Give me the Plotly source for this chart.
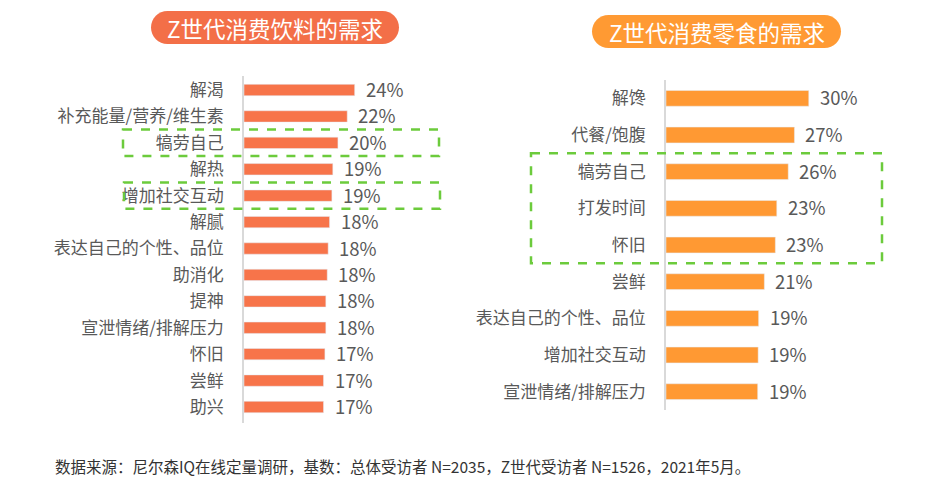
import plotly.graph_objects as go

W, H = 947, 492

# ---- data ----
drink_cats = ["解渴", "补充能量/营养/维生素", "犒劳自己", "解热", "增加社交互动", "解腻",
              "表达自己的个性、品位", "助消化", "提神", "宣泄情绪/排解压力", "怀旧", "尝鲜", "助兴"]
drink_vals = [23.8, 22.2, 20.2, 19.1, 18.9, 18.4, 18.1, 17.9, 17.6, 17.6, 17.4, 17.1, 17.1]
drink_highlight = ["犒劳自己", "增加社交互动"]

snack_cats = ["解馋", "代餐/饱腹", "犒劳自己", "打发时间", "怀旧", "尝鲜",
              "表达自己的个性、品位", "增加社交互动", "宣泄情绪/排解压力"]
snack_vals = [29.9, 26.9, 25.6, 23.2, 22.9, 20.6, 19.4, 19.3, 19.2]
snack_highlight = ["犒劳自己", "打发时间", "怀旧"]

title_left = "Z世代消费饮料的需求"
title_right = "Z世代消费零食的需求"
footnote = "数据来源：尼尔森IQ在线定量调研，基数：总体受访者 N=2035，Z世代受访者 N=1526，2021年5月。"

C_LEFT = "#F7744A"
C_RIGHT = "#FF9933"
C_TITLE_L = "#F36F48"
C_TITLE_R = "#FF9A33"
GREEN = "#6CCB3C"
TXT = "#595959"
FONT = "Noto Sans CJK SC"

def px(x):
    return x / W

def py(y):
    return 1 - y / H

fig = go.Figure()

fig.add_trace(go.Bar(x=drink_vals, y=drink_cats, orientation="h", marker_color=C_LEFT,
                     width=0.43, xaxis="x", yaxis="y", hoverinfo="skip"))
fig.add_trace(go.Bar(x=snack_vals, y=snack_cats, orientation="h", marker_color=C_RIGHT,
                     width=0.43, xaxis="x2", yaxis="y2", hoverinfo="skip"))

common_x = dict(range=[0, 40], showgrid=False, zeroline=False, showticklabels=False,
                showline=False, fixedrange=True)
common_y = dict(type="category", autorange="reversed", showgrid=False, zeroline=False,
                showline=True, linecolor="#D9D9D9", linewidth=1.5, ticks="",
                tickfont=dict(family=FONT, size=17, color=TXT), ticklabelstandoff=15)

fig.update_layout(
    width=W, height=H, margin=dict(l=0, r=0, t=0, b=0),
    paper_bgcolor="white", plot_bgcolor="white", showlegend=False,
    xaxis=dict(domain=[px(244), px(430)], anchor="y", **common_x),
    yaxis=dict(domain=[py(423), py(76)], anchor="x", **common_y),
    xaxis2=dict(domain=[px(666), px(857)], anchor="y2", **common_x),
    yaxis2=dict(domain=[py(410), py(80)], anchor="x2", **common_y),
)

annotations = []
for v, c in zip(drink_vals, drink_cats):
    annotations.append(dict(x=v, y=c, xref="x", yref="y", text=f"{v:.0f}%", showarrow=False,
                            xanchor="left", yanchor="middle", xshift=9, yshift=1,
                            font=dict(family=FONT, size=18.5, color=TXT)))
for v, c in zip(snack_vals, snack_cats):
    annotations.append(dict(x=v, y=c, xref="x2", yref="y2", text=f"{v:.0f}%", showarrow=False,
                            xanchor="left", yanchor="middle", xshift=9, yshift=1,
                            font=dict(family=FONT, size=18.5, color=TXT)))

annotations.append(dict(x=px(275), y=py(28), xref="paper", yref="paper", text=title_left,
                        showarrow=False, xanchor="center", yanchor="middle",
                        font=dict(family=FONT, size=22.5, color="white")))
annotations.append(dict(x=px(716.5), y=py(32), xref="paper", yref="paper", text=title_right,
                        showarrow=False, xanchor="center", yanchor="middle",
                        font=dict(family=FONT, size=22.5, color="white")))
annotations.append(dict(x=px(53), y=py(466), xref="paper", yref="paper", text=footnote,
                        showarrow=False, xanchor="left", yanchor="middle",
                        font=dict(family=FONT, size=15.5, color="#333333")))
fig.update_layout(annotations=annotations)

def pill(cx, cy, w, h, color):
    r = h / 2
    hw = w / 2
    k = 0.5523 * r
    path = (f"M {-hw + r},{-r} L {hw - r},{-r} "
            f"C {hw - r + k},{-r} {hw},{-k} {hw},0 "
            f"C {hw},{k} {hw - r + k},{r} {hw - r},{r} "
            f"L {-hw + r},{r} "
            f"C {-hw + r - k},{r} {-hw},{k} {-hw},0 "
            f"C {-hw},{-k} {-hw + r - k},{-r} {-hw + r},{-r} Z")
    return dict(type="path", xsizemode="pixel", ysizemode="pixel", xref="paper", yref="paper",
                xanchor=px(cx), yanchor=py(cy), path=path, fillcolor=color,
                line=dict(width=0), layer="below")

shapes = [pill(275, 27.5, 248, 33, C_TITLE_L), pill(716.5, 31.5, 249, 33, C_TITLE_R)]

def box(cats, items, yref, x0, x1):
    idx = [cats.index(i) for i in items]
    return dict(type="rect", xref="paper", yref=yref, x0=px(x0), x1=px(x1),
                y0=min(idx) - 0.5, y1=max(idx) + 0.5,
                line=dict(color=GREEN, width=2.5, dash="dash"), fillcolor="rgba(0,0,0,0)")

shapes.append(box(drink_cats, [drink_highlight[0]], "y", 123, 439))
shapes.append(box(drink_cats, [drink_highlight[1]], "y", 124, 440))
shapes.append(box(snack_cats, snack_highlight, "y2", 531, 882))
fig.update_layout(shapes=shapes)

fig.write_html("out.html", config={"displayModeBar": False},
               post_script="document.body.style.margin='0';document.body.style.overflow='hidden';")
